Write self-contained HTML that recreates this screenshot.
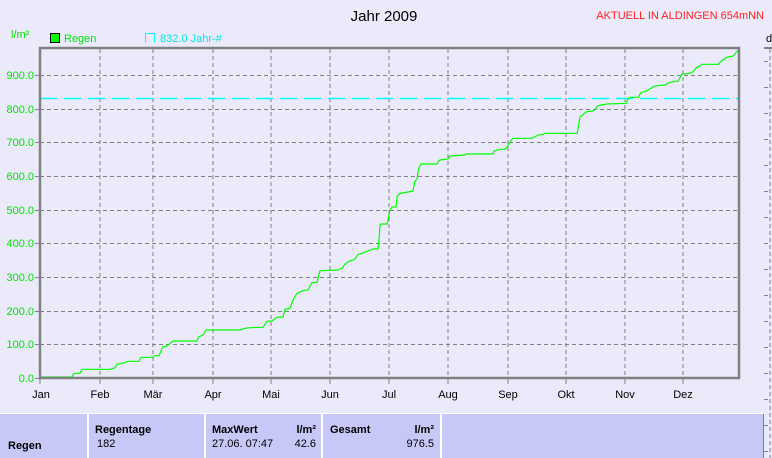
<!DOCTYPE html>
<html><head><meta charset="utf-8"><style>
html,body{margin:0;padding:0;width:772px;height:458px;overflow:hidden;background:#eaeafa;font-family:"Liberation Sans",sans-serif;}
.t{position:absolute;white-space:nowrap;}
</style></head><body>
<svg width="772" height="458" style="position:absolute;left:0;top:0" font-family="Liberation Sans, sans-serif">
<rect width="772" height="458" fill="#eaeafa"/>
<text x="384" y="21" font-size="15" text-anchor="middle" fill="#000">Jahr 2009</text>
<text x="764" y="19" font-size="11" text-anchor="end" fill="#ff2020">AKTUELL IN ALDINGEN 654mNN</text>
<text x="11" y="38" font-size="11" fill="#00e000">l/m²</text>
<rect x="50.5" y="33.5" width="9" height="9" fill="#00ff00" stroke="#000"/>
<text x="64" y="42" font-size="11" fill="#00e000">Regen</text>
<path d="M145.5 42.5V33.5H154.5V42.5" fill="none" stroke="#00ffff"/>
<text x="160" y="42" font-size="11" fill="#00e8e8">832.0 Jahr-#</text>
<g stroke="#808080" stroke-dasharray="4,3" stroke-width="1">
<path d="M100 49V378M153 49V378M213 49V378M271 49V378M330 49V378M389 49V378M448 49V378M508 49V378M566 49V378M625 49V378M683 49V378"/>
<path d="M40 75.5H739M40 109.5H739M40 142.5H739M40 176.5H739M40 210.5H739M40 243.5H739M40 277.5H739M40 311.5H739M40 344.5H739"/>
<path d="M770 49V458"/>
</g>
<g stroke="#808080"><path d="M35 75.5H40M35 109.5H40M35 142.5H40M35 176.5H40M35 210.5H40M35 243.5H40M35 277.5H40M35 311.5H40M35 344.5H40M35 378.5H40"/>
<path d="M100 378V384M153 378V384M213 378V384M271 378V384M330 378V384M389 378V384M448 378V384M508 378V384M566 378V384M625 378V384M683 378V384M40 378V384"/>
<path d="M764 61.5H768M764 87.5H768M764 113.5H768M764 139.5H768M764 165.5H768M764 191.5H768M764 217.5H768M764 243.5H768M764 269.5H768M764 295.5H768M764 321.5H768M764 347.5H768M764 373.5H768M764 399.5H768M764 425.5H768M764 451.5H768"/></g>
<path d="M764 48H772" stroke="#808080" stroke-width="2"/>
<g font-size="11" fill="#00e000" text-anchor="end">
<text x="34" y="79">900.0</text><text x="34" y="113">800.0</text><text x="34" y="146">700.0</text><text x="34" y="180">600.0</text><text x="34" y="214">500.0</text><text x="34" y="247">400.0</text><text x="34" y="281">300.0</text><text x="34" y="315">200.0</text><text x="34" y="348">100.0</text><text x="34" y="382">0.0</text>
</g>
<g font-size="11" fill="#000" text-anchor="middle">
<text x="41" y="398">Jan</text><text x="100" y="398">Feb</text><text x="153" y="398">Mär</text><text x="213" y="398">Apr</text><text x="271" y="398">Mai</text><text x="330" y="398">Jun</text><text x="389" y="398">Jul</text><text x="448" y="398">Aug</text><text x="508" y="398">Sep</text><text x="566" y="398">Okt</text><text x="625" y="398">Nov</text><text x="683" y="398">Dez</text>
</g>
<text x="766" y="42" font-size="11" fill="#000">d</text>
<path d="M40 98.5H739" stroke="#00ffff" stroke-width="1.5" stroke-dasharray="17,7"/>
<polyline fill="none" stroke="#00ff00" stroke-width="1.2" points="40,377 65,377 72,377 74,373.3 80,373.3 82,369.3 110,369.3 115,367.7 117,364.3 125,362.7 128,361.3 139,361.3 141,357.3 153,357.3 155,355.7 159,355.7 163,346.7 167,346 173,341 197,341 199,336.7 203,335 206,330 240,330 245,328.3 250,327.7 263,327.3 267,321.3 272,321 277,317.3 283,317 285,309.3 290,308.3 293,300 297,293.3 303,290.7 308,290 312,282.7 317,282.3 320,270.7 338,270 342,268.3 345,264 350,260.7 354,260 358,254.7 368,251 373,249 378,249 379,240 380,225 381,224 387,224 388,220 390,210 392,207 396,207 397,197 399,194 402,193 408,192 413,191 414,186 415,181 417,179 418,172 419,168 421,164 437,164 438,162 440,160 448,159 450,156 465,155 466,154 493,154 494,151 500,149.3 505,149.3 507.3,146.7 512.7,138.3 531.7,138.3 538.3,135 543.3,134.3 545,133.3 577.3,133.3 580,116.7 582.7,115 586.7,111.7 593.3,111 598.3,105.7 606.7,104 626,103.3 628.3,98.3 630.7,97.3 638.3,97.3 640.7,92.7 646.7,91 653.3,86.7 656.7,85.7 665,85 670,82.3 678.3,81 681.7,74.3 690,73.3 693.3,71.7 696.7,67.3 700,66 701.7,64.3 718.3,64.3 721.7,60.7 726.7,57.3 733.3,56 736.7,51.7 739,49"/>
<rect x="40" y="48" width="699" height="330" fill="none" stroke="#808080" stroke-width="2.5"/>
<rect x="0" y="414" width="763" height="44" fill="#c8c8f8"/>
<path d="M0 413.5H763" stroke="#ffffff"/>
<path d="M88 414V458M205 414V458M322 414V458M441 414V458" stroke="#ffffff" stroke-width="2"/>
<path d="M763.5 414V458" stroke="#808080"/>
<g font-size="11" fill="#000">
<text x="8" y="449" font-weight="bold">Regen</text>
<text x="95" y="433" font-weight="bold">Regentage</text>
<text x="97" y="447">182</text>
<text x="212" y="433" font-weight="bold">MaxWert</text>
<text x="316" y="433" font-weight="bold" text-anchor="end">l/m²</text>
<text x="212" y="447">27.06.  07:47</text>
<text x="316" y="447" text-anchor="end">42.6</text>
<text x="330" y="433" font-weight="bold">Gesamt</text>
<text x="434" y="433" font-weight="bold" text-anchor="end">l/m²</text>
<text x="434" y="447" text-anchor="end">976.5</text>
</g>
</svg>
</body></html>
